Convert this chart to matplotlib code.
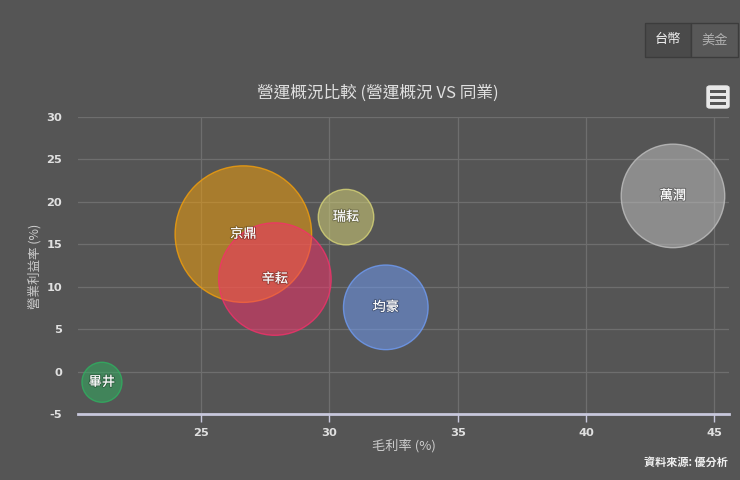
import matplotlib
matplotlib.use("Agg")
import matplotlib.pyplot as plt
import matplotlib.patheffects as pe
from matplotlib.patches import FancyBboxPatch, Rectangle
import numpy as np

plt.rcParams['font.family'] = ['Noto Sans CJK TC', 'DejaVu Sans']
plt.rcParams['axes.unicode_minus'] = False

# Data
companies = ['畢井', '京鼎', '辛耘', '瑞耘', '均豪', '萬潤']
gross_margin = [21.14, 26.65, 27.88, 30.65, 32.20, 43.39]     # 毛利率 (%)
op_margin = [-1.26, 16.2, 10.9, 18.2, 7.57, 20.7]             # 營業利益率 (%)
bubble_z = [4.0, 46.6, 31.6, 7.7, 17.9, 26.8]                 # bubble size value
colors = ['#2fb060', '#f5a00a', '#f5306a', '#d8d578', '#6f9cf5', '#c0c0c0']
x_ticks = [25, 30, 35, 40, 45]
y_ticks = [-5, 0, 5, 10, 15, 20, 25, 30]

BG = '#555555'
fig = plt.figure(figsize=(7.4, 4.8), dpi=100, facecolor=BG)
ax = fig.add_axes([78 / 740, 1 - 414 / 480, (729 - 78) / 740, (414 - 117) / 480])
ax.set_facecolor(BG)

ax.set_xlim(20.207, 45.573)
ax.set_ylim(-5, 30)
ax.set_xticks(x_ticks)
ax.set_yticks(y_ticks)
ax.grid(True, color='#6e6e6e', linewidth=0.9)
ax.set_axisbelow(True)
for side in ['top', 'right', 'left']:
    ax.spines[side].set_visible(False)
ax.spines['bottom'].set_color('#c8c8dc')
ax.spines['bottom'].set_linewidth(2)
ax.tick_params(axis='x', colors='#c8c8dc', length=6, width=1, labelcolor='#e0e0e0',
               labelsize=8.2, pad=4)
ax.tick_params(axis='y', length=0, labelcolor='#e0e0e0', labelsize=8.2, pad=11.5)
for lbl in ax.get_xticklabels() + ax.get_yticklabels():
    lbl.set_fontweight('bold')
    lbl.set_family('DejaVu Sans')

# bubbles: radius in px = 10 * sqrt(z); scatter size in points^2
px_to_pt = 72 / fig.dpi
for name, x, y, z, c in zip(companies, gross_margin, op_margin, bubble_z, colors):
    r_px = 10 * np.sqrt(z)
    s = (2 * r_px * px_to_pt) ** 2
    ax.scatter([x], [y], s=s, color=c, alpha=0.52, edgecolors='none', zorder=3)
    ax.scatter([x], [y], s=s, facecolors='none', edgecolors=c, linewidths=1.0,
               alpha=0.8, zorder=3)
for name, x, y in zip(companies, gross_margin, op_margin):
    ax.text(x, y, name, color='white', fontsize=9.5, ha='center', va='center', zorder=5,
            path_effects=[pe.withStroke(linewidth=1.5, foreground='#00000040')])

ax.set_xlabel('毛利率 (%)', color='#cccccc', fontsize=9.5)
ax.xaxis.set_label_coords((404 - 78) / 651, -(446 - 414) / 297)
ax.set_ylabel('營業利益率 (%)', color='#cccccc', fontsize=9)
ax.yaxis.set_label_coords((35 - 78) / 651, (414 - 266) / 297)
ax.xaxis.label.set_va('center')
ax.yaxis.label.set_va('center')

fig.text(378 / 740, 1 - 93 / 480, '營運概況比較 (營運概況 VS 同業)', color='#e0e0e0',
         fontsize=12, ha='center', va='center')
fig.text(728 / 740, 1 - 462 / 480, '資料來源: 優分析', color='#f0f0f0',
         fontsize=8, ha='right', va='center', fontweight='bold')

# currency buttons
fig.patches.append(FancyBboxPatch((645 / 740, 1 - 57 / 480), 46 / 740, 34 / 480,
                                  boxstyle='square,pad=0', transform=fig.transFigure,
                                  facecolor='#4a4a4a', edgecolor='#3c3c3c', linewidth=1))
fig.patches.append(FancyBboxPatch((691 / 740, 1 - 57 / 480), 47 / 740, 34 / 480,
                                  boxstyle='square,pad=0', transform=fig.transFigure,
                                  facecolor='#585858', edgecolor='#3c3c3c', linewidth=1))
fig.text(668 / 740, 1 - 40 / 480, '台幣', color='#f0f0f0', fontsize=9.5,
         ha='center', va='center')
fig.text(715 / 740, 1 - 40 / 480, '美金', color='#b0b0b0', fontsize=9.5,
         ha='center', va='center')

# export menu icon
fig.patches.append(FancyBboxPatch((707 / 740, 1 - 108 / 480), 22 / 740, 22 / 480,
                                  boxstyle='round,pad=0,rounding_size=0.004',
                                  transform=fig.transFigure,
                                  facecolor='#e8e8e8', edgecolor='#e8e8e8'))
for yy in [91, 97, 103]:
    fig.patches.append(Rectangle((710 / 740, 1 - (yy + 1.5) / 480), 16 / 740, 3 / 480,
                                 transform=fig.transFigure, facecolor='#555555',
                                 edgecolor='none'))

fig.savefig('out.png', dpi=100, facecolor=BG)
